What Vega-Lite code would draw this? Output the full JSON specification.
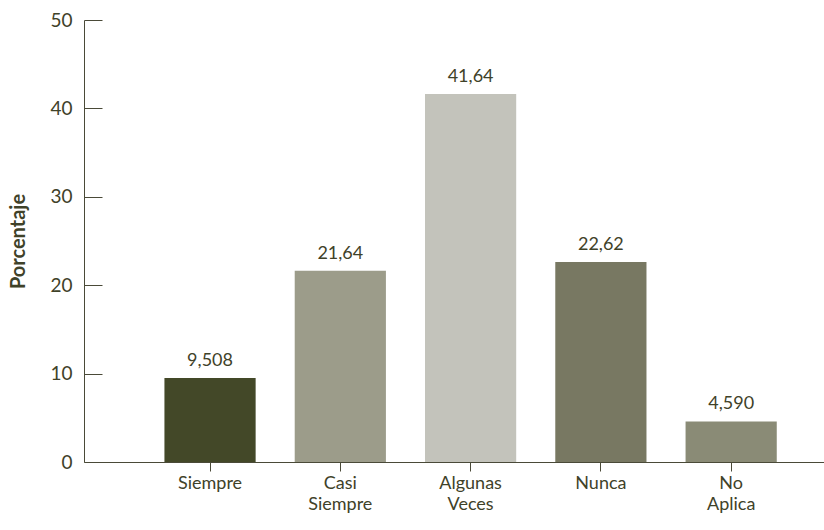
{
  "$schema": "https://vega.github.io/schema/vega-lite/v6.json",
  "autosize": "none",
  "width": 740,
  "height": 442,
  "padding": {"left": 84, "top": 20, "right": 0, "bottom": 68},
  "background": "white",
  "config": {
    "view": {"stroke": null},
    "locale": {"number": {"decimal": ",", "thousands": ".", "grouping": [3], "currency": ["", ""]}},
    "font": "Lato"
  },
  "data": {"values": [
    {"categoria": "Siempre", "porcentaje": 9.508},
    {"categoria": "Casi Siempre", "porcentaje": 21.64},
    {"categoria": "Algunas Veces", "porcentaje": 41.64},
    {"categoria": "Nunca", "porcentaje": 22.62},
    {"categoria": "No Aplica", "porcentaje": 4.590}
  ]},
  "encoding": {
    "x": {
      "field": "categoria", "type": "nominal", "sort": null,
      "scale": {"paddingInner": 0.3, "paddingOuter": 0.49, "align": 0.63},
      "axis": {
        "title": null, "labelAngle": 0, "labelExpr": "split(datum.label, ' ')",
        "labelFontSize": 18, "labelColor": "#3f4229", "labelLineHeight": 21,
        "domainColor": "#4a4a38", "tickColor": "#4a4a38", "tickSize": 9, "labelPadding": 3
      }
    }
  },
  "layer": [
    {
      "mark": {"type": "bar"},
      "encoding": {
        "y": {
          "field": "porcentaje", "type": "quantitative",
          "scale": {"domain": [0, 50], "nice": false},
          "axis": {
            "title": "Porcentaje", "titleFontSize": 20, "titleFontWeight": "bold", "titleColor": "#3f4229",
            "titlePadding": 21,
            "values": [0, 10, 20, 30, 40, 50], "grid": false,
            "labelFontSize": 19, "labelColor": "#3f4229",
            "domainColor": "#4a4a38", "tickColor": "#4a4a38", "tickSize": -18, "labelPadding": 30
          }
        },
        "color": {
          "field": "categoria", "type": "nominal", "legend": null,
          "scale": {
            "domain": ["Siempre", "Casi Siempre", "Algunas Veces", "Nunca", "No Aplica"],
            "range": ["#434828", "#9c9c8a", "#c3c3bb", "#787862", "#8a8b76"]
          }
        }
      }
    },
    {
      "mark": {"type": "text", "baseline": "bottom", "dy": -8, "fontSize": 18, "color": "#3f4229"},
      "encoding": {
        "y": {"field": "porcentaje", "type": "quantitative"},
        "text": {"field": "porcentaje", "type": "quantitative", "format": ".4r"}
      }
    }
  ]
}
